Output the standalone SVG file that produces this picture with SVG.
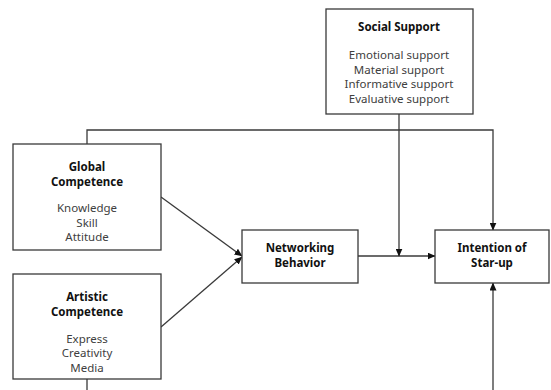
<svg xmlns="http://www.w3.org/2000/svg" width="551" height="390" viewBox="0 0 551 390">
<style>
.box{fill:#fff;stroke:#3a3a3a;stroke-width:1.3}
.t{font-family:"Noto Sans","Open Sans",sans-serif;font-size:11.5px;font-weight:bold;fill:#111;text-anchor:middle}
.s{font-family:"Noto Sans","Open Sans",sans-serif;font-size:11.5px;fill:#404040;text-anchor:middle}
.c{fill:none;stroke:#3a3a3a;stroke-width:1.3}
</style>
<defs>
<marker id="ah" markerWidth="8" markerHeight="7" refX="7.5" refY="3.5" orient="auto" markerUnits="userSpaceOnUse">
<path d="M0,0 L8,3.5 L0,7 Z" fill="#111"/>
</marker>
</defs>
<rect width="551" height="390" fill="#fff"/>
<g id="connectors">
<path class="c" d="M161,197 L242,256" marker-end="url(#ah)"/>
<path class="c" d="M161,327 L242,257" marker-end="url(#ah)"/>
<path class="c" d="M358,256 L435,256" marker-end="url(#ah)"/>
<path class="c" d="M399,114 L399,256" marker-end="url(#ah)"/>
<path class="c" d="M87,144 L87,130 L493,130 L493,230" marker-end="url(#ah)"/>
<path class="c" d="M87,379 L87,400 L493,400 L493,283" marker-end="url(#ah)"/>
</g>
<g id="social-support">
<rect class="box" x="326" y="9" width="147" height="105"/>
<text class="t" x="399" y="31">Social Support</text>
<text class="s" x="399" y="59">Emotional support</text>
<text class="s" x="399" y="73.5">Material support</text>
<text class="s" x="399" y="88">Informative support</text>
<text class="s" x="399" y="102.5">Evaluative support</text>
</g>
<g id="global-competence">
<rect class="box" x="13" y="144" width="148" height="106"/>
<text class="t" x="87" y="171">Global</text>
<text class="t" x="87" y="185.5">Competence</text>
<text class="s" x="87" y="212">Knowledge</text>
<text class="s" x="87" y="226.5">Skill</text>
<text class="s" x="87" y="241">Attitude</text>
</g>
<g id="artistic-competence">
<rect class="box" x="13" y="274" width="148" height="105"/>
<text class="t" x="87" y="301">Artistic</text>
<text class="t" x="87" y="315.5">Competence</text>
<text class="s" x="87" y="342.5">Express</text>
<text class="s" x="87" y="357">Creativity</text>
<text class="s" x="87" y="371.5">Media</text>
</g>
<g id="networking-behavior">
<rect class="box" x="242" y="230" width="116" height="53"/>
<text class="t" x="300" y="252">Networking</text>
<text class="t" x="300" y="266.5">Behavior</text>
</g>
<g id="intention">
<rect class="box" x="435" y="230" width="114" height="53"/>
<text class="t" x="492" y="252">Intention of</text>
<text class="t" x="492" y="266.5">Star-up</text>
</g>
</svg>
